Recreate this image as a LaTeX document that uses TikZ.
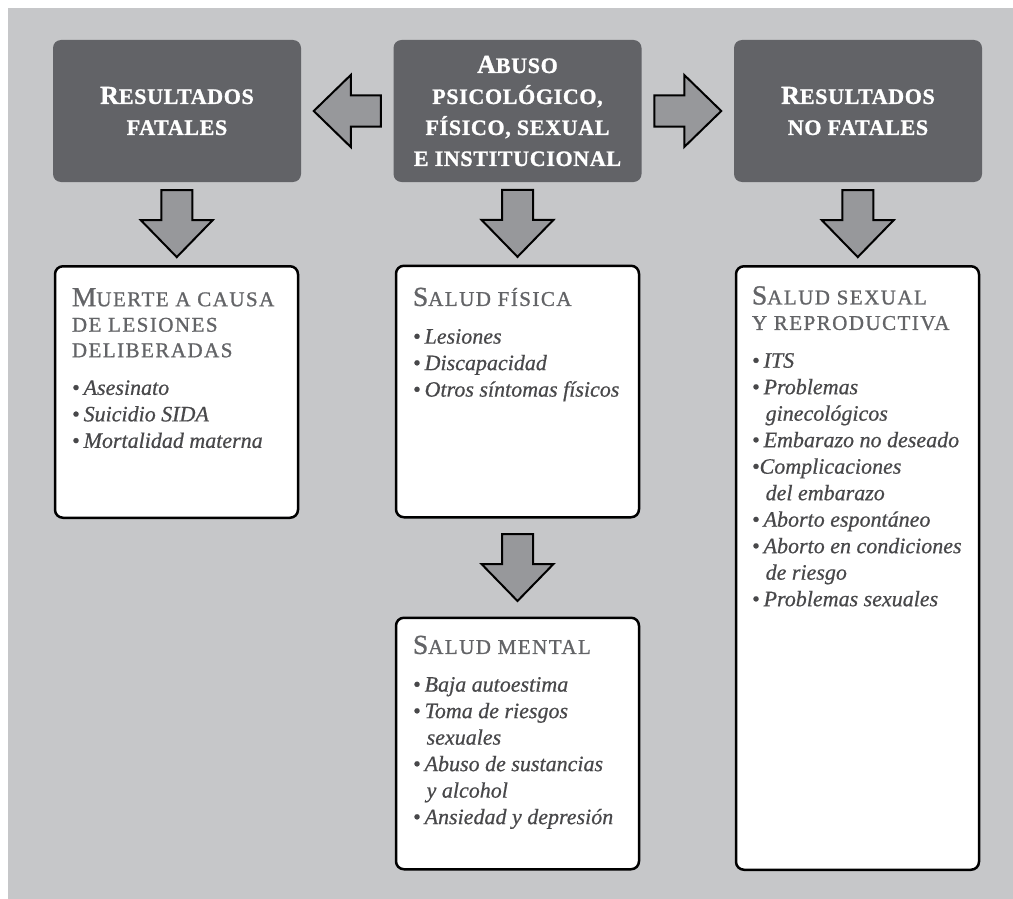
\documentclass[tikz,border=0pt]{standalone}
\usepackage{fontspec}
\setmainfont{Liberation Serif}
\newfontfamily\headfont[LetterSpace=3,FakeBold=1.2]{Liberation Serif Bold}
\newfontfamily\titlefont[LetterSpace=7,FakeBold=1]{Liberation Serif}
\newfontfamily\itemfont[FakeBold=0.6]{Liberation Serif Italic}
\usetikzlibrary{calc}

\definecolor{bggray}{HTML}{C6C7C9}
\definecolor{darkbox}{HTML}{626367}
\definecolor{arrowgray}{HTML}{97989B}
\definecolor{titlegray}{HTML}{636467}
\definecolor{itemgray}{HTML}{48484A}

\newcommand{\hcap}[1]{{\fontsize{26}{31}\selectfont #1}}
\newcommand{\tcap}[1]{{\fontsize{27.5}{25.5}\selectfont #1}}
\newcommand{\itm}[1]{\textbullet\hspace{4pt}#1}
\newcommand{\cnt}[1]{\hphantom{\textbullet}\hspace{6pt}#1}

\tikzset{
  headbox/.style={rectangle, rounded corners=8pt, fill=darkbox, text=white,
    align=center, minimum width=248pt, minimum height=142pt, inner sep=0pt,
    font=\headfont\fontsize{22}{31}\selectfont},
  listbox/.style={rectangle, rounded corners=8pt, draw=black, line width=2.5pt,
    fill=white, minimum width=243pt, inner sep=0pt},
  boxtitle/.style={anchor=north west, inner sep=0pt, align=left, text=titlegray,
    font=\titlefont\fontsize{21}{25.5}\selectfont},
  boxitems/.style={anchor=north west, inner sep=0pt, align=left, text=itemgray,
    font=\itemfont\fontsize{22}{26.5}\selectfont},
  blockarrow/.pic={
    \filldraw[fill=arrowgray, draw=black, line width=2pt]
      (-33.5,-15.5) -- (-3.5,-15.5) -- (-3.5,-36) -- (33.5,0)
      -- (-3.5,36) -- (-3.5,15.5) -- (-33.5,15.5) -- cycle;
  }
}

\begin{document}
\begin{tikzpicture}[x=1pt, y=-1pt]
    \useasboundingbox (0,0) rectangle (1013,899);
    \fill[bggray] (8,8) rectangle (1013,899);

    % top row
    \node[headbox] (fatal) at (177,111) {\hcap{R}ESULTADOS\\FATALES};
    \node[headbox] (abuse) at (517.5,111) {\hcap{A}BUSO\\PSICOLÓGICO,\\FÍSICO, SEXUAL\\E INSTITUCIONAL};
    \node[headbox] (nonfatal) at (858,111) {\hcap{R}ESULTADOS\\NO FATALES};

    % outcome boxes
    \node[listbox, minimum height=251.5pt] (death) at (176.5,392) {};
    \node[listbox, minimum height=251.5pt] (physical) at (517.5,391.5) {};
    \node[listbox, minimum height=251.5pt] (mental) at (517.5,743.5) {};
    \node[listbox, minimum height=603.5pt] (sexual) at (857.5,568) {};

    \node[boxtitle] (deathtitle) at ([shift={(18,23)}]death.north west)
        {\tcap{M}UERTE A CAUSA\\DE LESIONES\\DELIBERADAS};
    \node[boxitems] (deathitems) at ([shift={(0,22.5)}]deathtitle.south west)
        {\itm{Asesinato}\\\itm{Suicidio SIDA}\\\itm{Mortalidad materna}};

    \node[boxtitle] (physicaltitle) at ([shift={(18,23)}]physical.north west)
        {\tcap{S}ALUD FÍSICA};
    \node[boxitems] (physicalitems) at ([shift={(0,22.5)}]physicaltitle.south west)
        {\itm{Lesiones}\\\itm{Discapacidad}\\\itm{Otros síntomas físicos}};

    \node[boxtitle] (mentaltitle) at ([shift={(18,19)}]mental.north west)
        {\tcap{S}ALUD MENTAL};
    \node[boxitems] (mentalitems) at ([shift={(0,22.5)}]mentaltitle.south west)
        {\itm{Baja autoestima}\\\itm{Toma de riesgos}\\\cnt{sexuales}\\
         \itm{Abuso de sustancias}\\\cnt{y alcohol}\\\itm{Ansiedad y depresión}};

    \node[boxtitle] (sexualtitle) at ([shift={(17,21)}]sexual.north west)
        {\tcap{S}ALUD SEXUAL\\Y REPRODUCTIVA};
    \node[boxitems] (sexualitems) at ([shift={(0,22.5)}]sexualtitle.south west)
        {\itm{ITS}\\\itm{Problemas}\\\cnt{ginecológicos}\\\itm{Embarazo no deseado}\\
         \textbullet{}Complicaciones\\\cnt{del embarazo}\\\itm{Aborto espontáneo}\\
         \itm{Aborto en condiciones}\\\cnt{de riesgo}\\\itm{Problemas sexuales}};

    % arrows
    \pic[rotate=180] at ($(abuse.west)!0.5!(fatal.east)$) {blockarrow};
    \pic at ($(abuse.east)!0.5!(nonfatal.west)$) {blockarrow};
    \pic[rotate=-90] at ($(fatal.south)!0.5!(death.north)$) {blockarrow};
    \pic[rotate=-90] at ($(abuse.south)!0.5!(physical.north)$) {blockarrow};
    \pic[rotate=-90] at ($(nonfatal.south)!0.5!(sexual.north)$) {blockarrow};
    \pic[rotate=-90] at ($(physical.south)!0.5!(mental.north)$) {blockarrow};
\end{tikzpicture}
\end{document}
